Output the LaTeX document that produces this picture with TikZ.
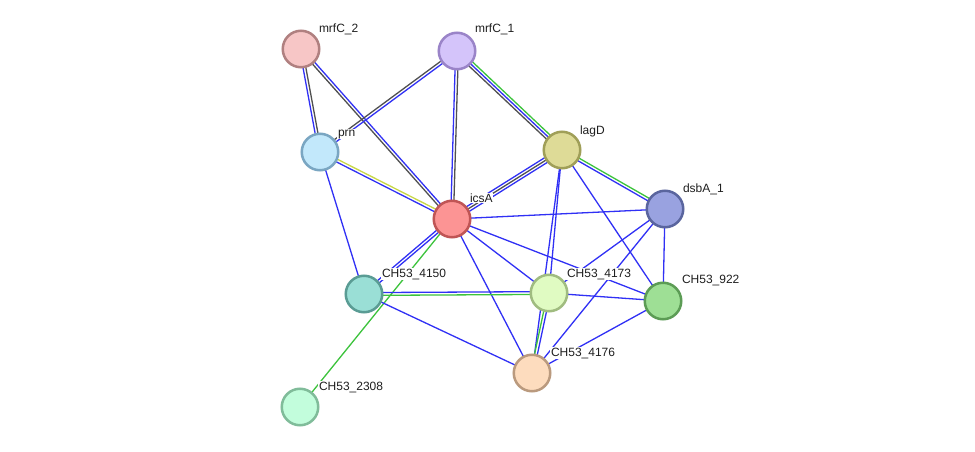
\documentclass[tikz,border=0pt]{standalone}
\usepackage{fontspec}
\setmainfont{Liberation Sans}
\usetikzlibrary{calc,backgrounds}
\definecolor{eblue}{RGB}{48,48,245}
\definecolor{egreen}{RGB}{60,195,60}
\definecolor{egray}{RGB}{80,80,80}
\definecolor{eyellow}{RGB}{200,215,70}
\newcommand{\lnk}[4]{\draw[edge,#4] ($(#1)!#3!90:(#2)$) -- ($(#2)!#3!-90:(#1)$);}
\tikzset{
  prot/.style={circle,draw,line width=2.5pt,minimum size=36.5pt,inner sep=0pt},
  lbl/.style={anchor=base west,inner xsep=0.8pt,inner ysep=0.6pt,fill=white,font=\fontsize{12}{14}\selectfont,text=black!88},
  edge/.style={line width=1.3pt}
}
\begin{document}
\begin{tikzpicture}[x=1pt,y=-1pt]
\useasboundingbox (0,0) rectangle (975,452);
% nodes
\node[prot,fill={rgb,255:red,247;green,198;blue,198},draw={rgb,255:red,176;green,128;blue,128}] (mB) at (301,49) {};
\node[prot,fill={rgb,255:red,212;green,196;blue,250},draw={rgb,255:red,154;green,132;blue,200}] (mA) at (457,51) {};
\node[prot,fill={rgb,255:red,194;green,232;blue,251},draw={rgb,255:red,122;green,166;blue,194}] (prn) at (320,152) {};
\node[prot,fill={rgb,255:red,222;green,219;blue,151},draw={rgb,255:red,160;green,159;blue,88}] (lagD) at (562,150) {};
\node[prot,fill={rgb,255:red,252;green,148;blue,148},draw={rgb,255:red,192;green,85;blue,85}] (icsA) at (452,219) {};
\node[prot,fill={rgb,255:red,153;green,162;blue,224},draw={rgb,255:red,90;green,101;blue,158}] (dsbA) at (665,209) {};
\node[prot,fill={rgb,255:red,154;green,223;blue,214},draw={rgb,255:red,90;green,156;blue,148}] (c4150) at (364,294) {};
\node[prot,fill={rgb,255:red,224;green,251;blue,194},draw={rgb,255:red,160;green,188;blue,128}] (c4173) at (549,293) {};
\node[prot,fill={rgb,255:red,158;green,223;blue,149},draw={rgb,255:red,92;green,156;blue,85}] (c922) at (663,301) {};
\node[prot,fill={rgb,255:red,253;green,220;blue,190},draw={rgb,255:red,186;green,154;blue,126}] (c4176) at (532,373) {};
\node[prot,fill={rgb,255:red,194;green,253;blue,220},draw={rgb,255:red,128;green,188;blue,154}] (c2308) at (300,407) {};
% labels
\node[lbl] (lmB) at ($(mB)+(17,-16)$) {mrfC\_2};
\node[lbl] (lmA) at ($(mA)+(17,-18)$) {mrfC\_1};
\node[lbl] (lprn) at ($(prn)+(17,-16)$) {prn};
\node[lbl] (llagD) at ($(lagD)+(17,-16)$) {lagD};
\node[lbl] (licsA) at ($(icsA)+(17,-17)$) {icsA};
\node[lbl] (ldsbA) at ($(dsbA)+(17,-17)$) {dsbA\_1};
\node[lbl] (l4150) at ($(c4150)+(17,-17)$) {CH53\_4150};
\node[lbl] (l4173) at ($(c4173)+(17,-16)$) {CH53\_4173};
\node[lbl] (l922) at ($(c922)+(18,-18)$) {CH53\_922};
\node[lbl] (l4176) at ($(c4176)+(18,-17)$) {CH53\_4176};
\node[lbl] (l2308) at ($(c2308)+(18,-17)$) {CH53\_2308};
% edges
\begin{pgfonlayer}{background}
\fill[white] (0,0) rectangle (975,452);
\lnk{mB}{prn}{1.4pt}{egray}
\lnk{mB}{prn}{-1.4pt}{eblue}
\lnk{mB}{icsA}{-1.4pt}{egray}
\lnk{mB}{icsA}{1.4pt}{eblue}
\lnk{mA}{prn}{-1.4pt}{egray}
\lnk{mA}{prn}{1.4pt}{eblue}
\lnk{mA}{icsA}{1.4pt}{egray}
\lnk{mA}{icsA}{-1.4pt}{eblue}
\lnk{mA}{lagD}{2.7pt}{egreen}
\lnk{mA}{lagD}{0pt}{eblue}
\lnk{mA}{lagD}{-2.7pt}{egray}
\lnk{prn}{icsA}{1.4pt}{eyellow}
\lnk{prn}{icsA}{-1.4pt}{eblue}
\lnk{prn}{c4150}{0pt}{eblue}
\lnk{lagD}{icsA}{2.7pt}{eblue}
\lnk{lagD}{icsA}{0pt}{egray}
\lnk{lagD}{icsA}{-2.7pt}{eblue}
\lnk{lagD}{dsbA}{1.4pt}{egreen}
\lnk{lagD}{dsbA}{-1.4pt}{eblue}
\lnk{lagD}{c4173}{0pt}{eblue}
\lnk{lagD}{c4176}{0pt}{eblue}
\lnk{lagD}{c922}{0pt}{eblue}
\lnk{icsA}{dsbA}{0pt}{eblue}
\lnk{icsA}{c4150}{1.4pt}{eblue}
\lnk{icsA}{c4150}{-1.4pt}{eblue}
\lnk{icsA}{c2308}{0pt}{egreen}
\lnk{icsA}{c4173}{0pt}{eblue}
\lnk{icsA}{c922}{0pt}{eblue}
\lnk{icsA}{c4176}{0pt}{eblue}
\lnk{dsbA}{c4173}{0pt}{eblue}
\lnk{dsbA}{c4176}{0pt}{eblue}
\lnk{dsbA}{c922}{0pt}{eblue}
\lnk{c4150}{c4173}{-1.4pt}{egreen}
\lnk{c4150}{c4173}{1.4pt}{eblue}
\lnk{c4150}{c4176}{0pt}{eblue}
\lnk{c4173}{c922}{0pt}{eblue}
\lnk{c4173}{c4176}{1.4pt}{eblue}
\lnk{c4173}{c4176}{-1.4pt}{egreen}
\lnk{c922}{c4176}{0pt}{eblue}
\end{pgfonlayer}
\end{tikzpicture}
\end{document}
